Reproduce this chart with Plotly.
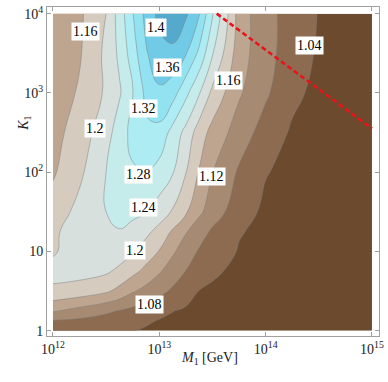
import plotly.graph_objects as go

# grid: log10(M1/GeV) columns, log10(K1) rows
m1_exp = [12.0, 12.25, 12.5, 12.625, 12.75, 12.875, 13.0, 13.125, 13.25,
          13.375, 13.5, 13.75, 14.0, 14.25, 14.5, 14.75, 15.0]
k1_exp = [0.0, 0.125, 0.25, 0.5, 0.75, 1.0, 1.25, 1.5, 2.0, 2.5, 3.0, 3.5, 4.0]

# one row per k1_exp value, one entry per m1_exp value
z_rows = [
    [1.070, 1.062, 1.052, 1.046, 1.041, 1.036, 1.032, 1.028, 1.025, 1.021, 1.018, 1.012, 1.008, 1.004, 1.000, 0.997, 0.994],
    [1.077, 1.072, 1.064, 1.058, 1.052, 1.045, 1.038, 1.034, 1.030, 1.027, 1.023, 1.016, 1.010, 1.006, 1.002, 0.998, 0.995],
    [1.124, 1.106, 1.087, 1.078, 1.069, 1.060, 1.050, 1.041, 1.035, 1.030, 1.026, 1.018, 1.012, 1.008, 1.004, 1.000, 0.996],
    [1.193, 1.183, 1.166, 1.148, 1.124, 1.107, 1.091, 1.074, 1.057, 1.039, 1.033, 1.024, 1.017, 1.011, 1.006, 1.002, 0.998],
    [1.212, 1.214, 1.206, 1.191, 1.171, 1.149, 1.124, 1.101, 1.079, 1.064, 1.047, 1.030, 1.022, 1.014, 1.008, 1.003, 0.999],
    [1.196, 1.218, 1.228, 1.220, 1.204, 1.181, 1.158, 1.126, 1.100, 1.076, 1.066, 1.037, 1.025, 1.016, 1.010, 1.005, 1.000],
    [1.192, 1.222, 1.240, 1.238, 1.225, 1.210, 1.186, 1.155, 1.123, 1.097, 1.074, 1.043, 1.030, 1.020, 1.013, 1.007, 1.002],
    [1.178, 1.212, 1.240, 1.251, 1.251, 1.241, 1.222, 1.196, 1.165, 1.128, 1.100, 1.058, 1.032, 1.025, 1.016, 1.009, 1.003],
    [1.155, 1.192, 1.240, 1.258, 1.276, 1.278, 1.265, 1.243, 1.201, 1.157, 1.121, 1.075, 1.042, 1.030, 1.020, 1.012, 1.005],
    [1.145, 1.180, 1.222, 1.262, 1.291, 1.313, 1.308, 1.266, 1.228, 1.180, 1.147, 1.101, 1.063, 1.035, 1.025, 1.016, 1.008],
    [1.135, 1.165, 1.206, 1.235, 1.279, 1.330, 1.353, 1.337, 1.290, 1.243, 1.190, 1.125, 1.086, 1.049, 1.030, 1.020, 1.010],
    [1.128, 1.156, 1.209, 1.248, 1.301, 1.356, 1.386, 1.390, 1.363, 1.311, 1.243, 1.138, 1.093, 1.061, 1.035, 1.023, 1.012],
    [1.128, 1.153, 1.200, 1.258, 1.318, 1.372, 1.411, 1.430, 1.406, 1.363, 1.283, 1.142, 1.090, 1.067, 1.038, 1.025, 1.012],
]

# red dashed bound (log10 M1, log10 K1)
bound_m1_exp = [13.54, 15.0]
bound_k1_exp = [4.0, 2.55]

x_tick_exp = [12, 13, 14, 15]
x_tick_text = ['10<sup>12</sup>', '10<sup>13</sup>', '10<sup>14</sup>', '10<sup>15</sup>']
y_tick_exp = [0, 1, 2, 3, 4]
y_tick_text = ['1', '10', '10<sup>2</sup>', '10<sup>3</sup>', '10<sup>4</sup>']

# contour label text with where it sits on the plot
label_text = ['1.16', '1.4', '1.36', '1.32', '1.2', '1.28', '1.24', '1.2', '1.08', '1.16', '1.12', '1.04']
label_x = [12.31, 12.97, 13.08, 12.85, 12.40, 12.80, 12.85, 12.77, 12.91, 13.65, 13.49, 14.41]
label_y = [3.78, 3.82, 3.32, 2.81, 2.55, 1.97, 1.55, 1.01, 0.33, 3.16, 1.95, 3.60]

band_colors = ['#6b4a2e', '#8c6b50', '#a78a72', '#bda58f', '#d5cbbf', '#d7e0dc',
               '#c6ebeb', '#aeecf3', '#92e2f1', '#72cbe6', '#55a9cc']
colorscale = [[i / 10, c] for i, c in enumerate(band_colors)]

serif = 'Liberation Serif, DejaVu Serif, serif'

fig = go.Figure()

fig.add_trace(go.Contour(
    x=m1_exp, y=k1_exp, z=z_rows,
    contours=dict(start=1.04, end=1.40, size=0.04, coloring='fill', showlabels=False),
    colorscale=colorscale,
    line=dict(color='rgba(125,125,125,0.6)', width=0.8),
    line_smoothing=1.3,
    showscale=False,
    hoverinfo='skip',
))

fig.add_trace(go.Scatter(
    x=bound_m1_exp, y=bound_k1_exp, mode='lines',
    line=dict(color='#e8141a', width=2.6, dash='5px,3px'),
    showlegend=False, hoverinfo='skip',
))

for t, lx, ly in zip(label_text, label_x, label_y):
    fig.add_annotation(x=lx, y=ly, text=t, showarrow=False,
                       font=dict(family=serif, size=14, color='black'),
                       bgcolor='white', borderpad=1)

fig.add_annotation(xref='paper', yref='paper', x=0.49, y=-0.1, text='<i>M</i><sub>1</sub> [GeV]',
                   showarrow=False, font=dict(family=serif, size=14, color='#222'))
fig.add_annotation(xref='paper', yref='paper', x=-0.1, y=0.675, text='<i>K</i><sub>1</sub>',
                   textangle=-90, showarrow=False, font=dict(family=serif, size=14, color='#222'))

axis_style = dict(showgrid=False, zeroline=False, showline=True, linecolor='#a0a0a0', linewidth=1,
                  mirror='ticks', ticks='inside', ticklen=4, tickcolor='#a0a0a0',
                  tickfont=dict(family=serif, size=14, color='#222'))

fig.update_xaxes(range=[11.944, 15.066], tickvals=x_tick_exp, ticktext=x_tick_text, **axis_style)
fig.update_yaxes(range=[-0.066, 4.084], tickvals=y_tick_exp, ticktext=y_tick_text, **axis_style)

fig.update_layout(width=388, height=382, margin=dict(l=47, r=9, t=4, b=46),
                  plot_bgcolor='white', paper_bgcolor='white', showlegend=False)

# drop the browser's default 8px body margin so the figure sits at the page corner
fig.write_html("out.html", config={'displayModeBar': False},
               post_script="document.body.style.margin='0';")
